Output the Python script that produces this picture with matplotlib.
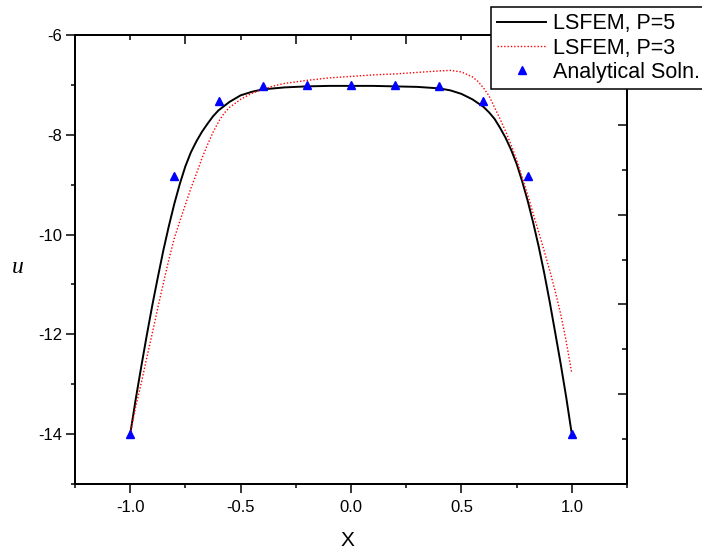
import matplotlib
matplotlib.use("Agg")
import matplotlib.pyplot as plt

# LSFEM solution, P=5
x_p5 = [-1.00, -0.975, -0.95, -0.925, -0.90, -0.875, -0.85, -0.825, -0.80, -0.775,
        -0.75, -0.725, -0.70, -0.675, -0.65, -0.625, -0.60, -0.55, -0.50, -0.45,
        -0.40, -0.30, -0.20, -0.10, 0.00, 0.10, 0.20, 0.30, 0.40, 0.45, 0.50,
        0.55, 0.60, 0.625, 0.65, 0.675, 0.70, 0.725, 0.75, 0.775, 0.80, 0.825,
        0.85, 0.875, 0.90, 0.925, 0.95, 0.975, 1.00]
u_p5 = [-14.00, -13.30, -12.65, -12.02, -11.42, -10.86, -10.32, -9.83, -9.38, -8.98,
        -8.63, -8.35, -8.13, -7.94, -7.78, -7.63, -7.51, -7.34, -7.21, -7.14,
        -7.09, -7.05, -7.03, -7.02, -7.02, -7.02, -7.03, -7.04, -7.07, -7.11, -7.18,
        -7.29, -7.44, -7.55, -7.68, -7.86, -8.06, -8.30, -8.58, -8.93, -9.32, -9.76,
        -10.24, -10.77, -11.35, -11.97, -12.60, -13.27, -14.00]

# LSFEM solution, P=3
x_p3 = [-1.00, -0.975, -0.95, -0.925, -0.90, -0.875, -0.85, -0.825, -0.80, -0.775,
        -0.75, -0.725, -0.70, -0.675, -0.65, -0.625, -0.60, -0.575, -0.55, -0.50,
        -0.45, -0.40, -0.35, -0.30, -0.20, -0.10, 0.00, 0.10, 0.20, 0.30, 0.40,
        0.45, 0.50, 0.55, 0.575, 0.60, 0.625, 0.65, 0.675, 0.70, 0.725, 0.75,
        0.775, 0.80, 0.825, 0.85, 0.875, 0.90, 0.925, 0.95, 0.975, 1.00]
u_p3 = [-14.00, -13.45, -12.98, -12.47, -11.98, -11.47, -10.98, -10.50, -10.07, -9.73,
        -9.40, -9.07, -8.78, -8.47, -8.20, -7.95, -7.74, -7.57, -7.45, -7.29,
        -7.17, -7.09, -7.02, -6.97, -6.91, -6.86, -6.83, -6.80, -6.78, -6.75, -6.72,
        -6.71, -6.74, -6.84, -6.93, -7.06, -7.22, -7.45, -7.68, -7.93, -8.20, -8.50,
        -8.85, -9.20, -9.58, -9.95, -10.33, -10.72, -11.14, -11.60, -12.15, -12.78]

# Analytical solution
x_exact = [-1.0, -0.8, -0.6, -0.4, -0.2, 0.0, 0.2, 0.4, 0.6, 0.8, 1.0]
u_exact = [-14.0, -8.83, -7.32, -7.03, -7.00, -7.00, -7.00, -7.03, -7.32, -8.83, -14.0]

x_ticks = [-1.0, -0.5, 0.0, 0.5, 1.0]
x_minor = [-1.25, -0.75, -0.25, 0.25, 0.75, 1.25]
y_ticks = [-14, -12, -10, -8, -6]
y_minor = [-15, -13, -11, -9, -7]

plt.rcParams["font.family"] = ["Liberation Sans", "DejaVu Sans"]

fig = plt.figure(figsize=(7.02, 5.52), dpi=100)
ax = fig.add_axes([75 / 702, 1 - 484 / 552, 552 / 702, 449 / 552])

l5, = ax.plot(x_p5, u_p5, color="black", lw=1.4, label="LSFEM, P=5", zorder=3)
l3, = ax.plot(x_p3, u_p3, color="red", lw=1.0, linestyle=(0, (1, 1.4)),
              label="LSFEM, P=3", zorder=3)
lm, = ax.plot(x_exact, u_exact, linestyle="none", marker="^", ms=6,
              color="blue", mec="blue", label="Analytical Soln.", zorder=4)

ax.set_xlim(-1.25, 1.25)
ax.set_ylim(-15, -6)
ax.set_xticks(x_ticks)
ax.set_xticklabels([f"{v:.1f}" for v in x_ticks])
ax.set_xticks(x_minor, minor=True)
ax.set_yticks(y_ticks)
ax.set_yticklabels([str(v) for v in y_ticks])
ax.set_yticks(y_minor, minor=True)
ax.tick_params(which="major", direction="out", length=6.3, width=1.1,
               labelsize=12, pad=3)
ax.tick_params(which="minor", direction="out", length=3.1, width=1.1)
ax.tick_params(axis="x", which="major", pad=5)
for s in ax.spines.values():
    s.set_linewidth(1.2)

# Secondary frame axes on the right and top (ticks only)
axr = ax.twinx()
axr.set_ylim(0, 10)
axr.set_yticks([0, 2, 4, 6, 8, 10])
axr.set_yticks([1, 3, 5, 7, 9], minor=True)
axr.tick_params(which="major", direction="in", length=6.5, width=1.1,
                labelright=False)
axr.tick_params(which="minor", direction="in", length=3.6, width=1.1)
axt = ax.twiny()
axt.set_xlim(0, 10)
axt.set_xticks([0, 2, 4, 6, 8, 10])
axt.set_xticks([1, 3, 5, 7, 9], minor=True)
axt.tick_params(which="major", direction="in", length=6.5, width=1.1,
                labeltop=False)
axt.tick_params(which="minor", direction="in", length=3.6, width=1.1)
for a in (axr, axt):
    for s in a.spines.values():
        s.set_linewidth(1.2)

fig.text(347 / 702, 1 - 540 / 552, "X", fontsize=15, ha="center", va="center")
fig.text(18 / 702, 1 - 268 / 552, "u", fontsize=17, ha="center", va="center",
         family=["Liberation Serif", "DejaVu Serif"], style="italic")

leg = fig.legend(handles=[l5, l3, lm], loc="upper left",
                 bbox_to_anchor=(491 / 702, 1 - 7 / 552), borderaxespad=0,
                 fontsize=15.5, frameon=True, fancybox=False, framealpha=1,
                 edgecolor="black", borderpad=0.3, labelspacing=0.15,
                 handlelength=2.27, handletextpad=0.32, numpoints=1)
leg.get_frame().set_linewidth(1.1)

fig.savefig("out.png", dpi=100)
